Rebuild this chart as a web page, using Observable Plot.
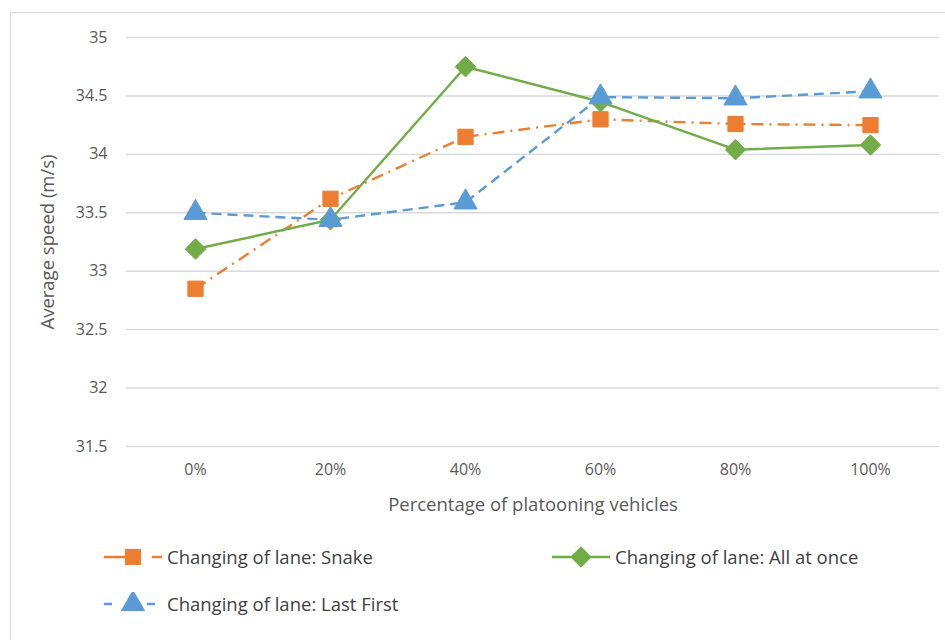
<!DOCTYPE html>
<html>
<head>
<meta charset="utf-8">
<script src="https://cdn.jsdelivr.net/npm/d3@7"></script>
<script src="https://cdn.jsdelivr.net/npm/@observablehq/plot@0.6"></script>
<style>
  html, body { margin: 0; padding: 0; background: #fff; }
  body { width: 945px; height: 640px; position: relative; overflow: hidden; font-family: "Open Sans", sans-serif; }
  #frame { position: absolute; left: 10px; top: 12px; width: 940px; height: 640px; border: 1px solid #d9d9d9; box-sizing: border-box; }
  #chart { position: absolute; left: 0; top: 0; }
  #chart svg text { font-family: "Open Sans", sans-serif; }
  #chart svg g[aria-label="y-axis tick label"] text, #chart svg g[aria-label="x-axis tick label"] text { font-size: 16px; }
  #chart svg g[aria-label="y-axis label"] text, #chart svg g[aria-label="x-axis label"] text { font-size: 18.5px; }
  .leg { position: absolute; display: flex; align-items: center; font-size: 18.5px; color: #404040; white-space: nowrap; }
  .leg svg { margin-right: 5px; }
</style>
</head>
<body>
<div id="frame"></div>
<div id="chart"></div>
<div id="legend"></div>
<script>
const categories = ["0%", "20%", "40%", "60%", "80%", "100%"];
const snake     = [32.85, 33.62, 34.15, 34.30, 34.26, 34.25];
const allAtOnce = [33.19, 33.44, 34.75, 34.45, 34.04, 34.08];
const lastFirst = [33.50, 33.44, 33.59, 34.49, 34.48, 34.54];
const yTicks = [31.5, 32, 32.5, 33, 33.5, 34, 34.5, 35];
const seriesNames = ["Changing of lane: Snake", "Changing of lane: All at once", "Changing of lane: Last First"];

const colors = ["#ED7D31", "#70AD47", "#5B9BD5"];
const dashes = ["12 6 2 6", null, "10 6"];
const symbols = ["square", "diamond2", "triangle"];
const radii = [8.6, 9.2, 8.6];
const allValues = [snake, allAtOnce, lastFirst];

const marks = [
  Plot.gridY(yTicks, {stroke: "#d9d9d9", strokeOpacity: 1, strokeWidth: 1.4}),
  Plot.axisY(yTicks, {tickSize: 0, tickPadding: 19, color: "#595959", label: "Average speed (m/s)", labelArrow: false, labelAnchor: "center", labelOffset: 86, tickFormat: d => String(d)}),
  Plot.axisX({tickSize: 0, tickPadding: 17, color: "#595959", label: "Percentage of platooning vehicles", labelArrow: false, labelAnchor: "center", labelOffset: 64})
];

allValues.forEach((vals, i) => {
  const data = categories.map((c, j) => ({cat: c, v: vals[j]}));
  marks.push(Plot.line(data, {x: "cat", y: "v", stroke: colors[i], strokeWidth: 2.4, strokeDasharray: dashes[i], strokeLinecap: "butt"}));
  marks.push(Plot.dot(data, {x: "cat", y: "v", symbol: symbols[i], r: radii[i], fill: colors[i], stroke: colors[i], strokeWidth: 1}));
});

const plot = Plot.plot({
  width: 945,
  height: 525,
  marginLeft: 126,
  marginRight: 6,
  marginTop: 37,
  marginBottom: 79,
  style: {fontFamily: "'Open Sans', sans-serif", color: "#595959", background: "transparent"},
  x: {type: "point", domain: categories, padding: 0.5},
  y: {domain: [31.5, 35]},
  marks
});
document.getElementById("chart").appendChild(plot);

// legend
const legendPos = [[104, 557], [552, 557], [104, 604]];
const legend = document.getElementById("legend");
seriesNames.forEach((name, i) => {
  const div = document.createElement("div");
  div.className = "leg";
  div.style.left = legendPos[i][0] + "px";
  div.style.top = (legendPos[i][1] - 13) + "px";
  const w = 58, h = 24, cy = 12, cx = 29;
  const svg = d3.create("svg").attr("width", w).attr("height", h);
  svg.append("line").attr("x1", 0).attr("x2", w).attr("y1", cy).attr("y2", cy)
    .attr("stroke", colors[i]).attr("stroke-width", 2.4)
    .attr("stroke-dasharray", i === 0 ? "22 26 10 20" : i === 2 ? "8 9 0 26 8 20" : null);
  const sym = {square: d3.symbolSquare, diamond2: d3.symbolDiamond2, triangle: d3.symbolTriangle}[symbols[i]];
  svg.append("path").attr("transform", `translate(${cx},${cy})`)
    .attr("d", d3.symbol(sym, Math.PI * radii[i] * radii[i])())
    .attr("fill", colors[i]).attr("stroke", colors[i]);
  div.appendChild(svg.node());
  const span = document.createElement("span");
  span.textContent = name;
  div.appendChild(span);
  legend.appendChild(div);
});
</script>
</body>
</html>
